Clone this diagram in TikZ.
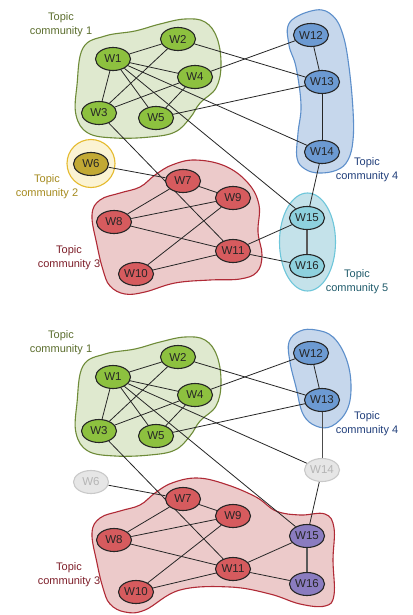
\documentclass[tikz,border=0pt]{standalone}
\usepackage{fontspec}
\setmainfont{Liberation Sans}
\usetikzlibrary{shapes.geometric}
\pgfdeclarelayer{hulls}
\pgfdeclarelayer{edges}
\pgfsetlayers{hulls,edges,main}
\definecolor{gN}{HTML}{8DC13F}\definecolor{gH}{HTML}{DFE9CF}\definecolor{gB}{HTML}{6E8B38}\definecolor{gT}{HTML}{5C6E2E}
\definecolor{yN}{HTML}{C2A934}\definecolor{yH}{HTML}{FBF3D3}\definecolor{yB}{HTML}{E5BA2D}\definecolor{yT}{HTML}{A68B1F}
\definecolor{rN}{HTML}{D65B5E}\definecolor{rH}{HTML}{ECCACA}\definecolor{rB}{HTML}{B02A36}\definecolor{rT}{HTML}{7E1F2A}
\definecolor{bN}{HTML}{6C9AD2}\definecolor{bH}{HTML}{C6D7EC}\definecolor{bB}{HTML}{5D8FCB}\definecolor{bT}{HTML}{213F7B}
\definecolor{cN}{HTML}{8ED1DE}\definecolor{cH}{HTML}{C4E2EA}\definecolor{cB}{HTML}{6DC6DA}\definecolor{cT}{HTML}{215C6C}
\definecolor{pN}{HTML}{8A7CC0}
\definecolor{xN}{HTML}{E6E6E6}\definecolor{xB}{HTML}{C9C9C9}\definecolor{xT}{HTML}{B5B5B5}
\begin{document}
\begin{tikzpicture}[x=1pt,y=-1pt,
  wnode/.style={ellipse, draw=black!85, line width=1.1pt, minimum width=35pt, minimum height=23pt, inner sep=0pt, font=\fontsize{11.5}{13}\selectfont, text=black!85},
  green/.style={wnode, fill=gN},
  gold/.style={wnode, fill=yN},
  red/.style={wnode, fill=rN},
  blue/.style={wnode, fill=bN},
  cyan/.style={wnode, fill=cN},
  purple/.style={wnode, fill=pN},
  grey/.style={wnode, fill=xN, draw=xB, text=xT},
  edge/.style={draw=black!85, line width=0.8pt},
  strong/.style={draw=black!65, line width=1.5pt},
  hull/.style={line width=1.1pt},
  lab/.style={align=center, font=\fontsize{11}{14}\selectfont}
]
\useasboundingbox (0,0) rectangle (412,615);
\begin{pgfonlayer}{hulls}
\fill[white] (0,0) rectangle (412,615);
\end{pgfonlayer}

% ---------------- top panel ----------------
\begin{pgfonlayer}{hulls}
\draw[hull, draw=gB, fill=gH] plot[smooth cycle, tension=0.65] coordinates {(83,48) (105,36) (135,31) (160,24) (185,19) (205,22) (217,38) (221,65) (216,88) (200,103) (190,118) (175,132) (150,137) (115,138) (88,133) (76,115) (77,85)};
\draw[hull, draw=rB, fill=rH] plot[smooth cycle, tension=0.65] coordinates {(92,215) (100,200) (120,193) (140,187) (155,175) (172,165) (195,160) (225,166) (248,183) (259,205) (258,232) (262,255) (257,272) (240,279) (210,280) (175,283) (145,292) (125,294) (110,286) (103,270) (97,245)};
\draw[hull, draw=bB, fill=bH] plot[smooth cycle, tension=0.65] coordinates {(316,10) (333,16) (343,35) (349,67) (353,110) (353,140) (348,160) (337,170) (319,173) (305,169) (297,158) (298,133) (301,105) (296,67) (289,45) (290,22)};
\draw[hull, draw=cB, fill=cH] (307.5,242) ellipse[x radius=28, y radius=49];
\draw[hull, draw=yB, fill=yH] (91,163.5) circle[radius=24];
\end{pgfonlayer}

\node[green] (t1) at (113,59) {W1};
\node[green] (t2) at (178,39) {W2};
\node[green] (t3) at (99,113) {W3};
\node[green] (t4) at (195,77) {W4};
\node[green] (t5) at (156,118) {W5};
\node[gold]  (t6) at (91,164) {W6};
\node[red] (t7) at (183,181) {W7};
\node[red] (t8) at (114,222) {W8};
\node[red] (t9) at (233,198) {W9};
\node[red] (t10) at (136,274) {W10};
\node[red] (t11) at (233,251) {W11};
\node[blue] (t12) at (311,35) {W12};
\node[blue] (t13) at (322,82) {W13};
\node[blue] (t14) at (322,152) {W14};
\node[cyan] (t15) at (307,218) {W15};
\node[cyan] (t16) at (307,266) {W16};

\begin{pgfonlayer}{edges}
\foreach \a/\b in {1/2,1/3,1/4,1/5,1/14,1/15,2/3,2/13,3/4,3/11,4/5,4/12,5/13,12/13,13/14,14/15,6/7,7/8,7/9,8/9,8/11,9/10,10/11,11/15,11/16}
  \draw[edge] (t\a) -- (t\b);
\draw[strong] (t15) -- (t16);
\end{pgfonlayer}

\node[lab, text=gT] (l1) at (61,25) {Topic\\community 1};
\node[lab, text=yT] (l2) at (47,187) {Topic\\community 2};
\node[lab, text=rT] (l3) at (69,258) {Topic\\community 3};
\node[lab, text=bT] (l4) at (367,170) {Topic\\community 4};
\node[lab, text=cT] (l5) at (357,282) {Topic\\community 5};

% ---------------- bottom panel ----------------
\begin{pgfonlayer}{hulls}
\draw[hull, draw=gB, fill=gH] plot[smooth cycle, tension=0.65] coordinates {(83,366) (105,354) (135,349) (160,342) (185,337) (205,340) (217,356) (221,383) (216,406) (200,421) (190,436) (175,450) (150,455) (115,456) (88,451) (76,433) (77,403)};
\draw[hull, draw=rB, fill=rH] plot[smooth cycle, tension=0.65] coordinates {(92,533) (100,518) (120,511) (140,505) (155,493) (172,483) (197,478) (225,484) (256,497) (276,511) (300,515) (325,514) (334,528) (333,560) (334,595) (325,606) (300,604) (270,594) (230,587) (180,590) (145,610) (125,612) (110,604) (103,588) (97,563)};
\draw[hull, draw=bB, fill=bH] plot[smooth cycle, tension=0.65] coordinates {(316,330) (333,337) (346,358) (351,385) (347,410) (332,426) (316,426) (303,414) (296,387) (290,362) (289,342) (300,331)};
\end{pgfonlayer}

\node[green] (b1) at (113,377) {W1};
\node[green] (b2) at (178,357) {W2};
\node[green] (b3) at (99,431) {W3};
\node[green] (b4) at (195,395) {W4};
\node[green] (b5) at (156,436) {W5};
\node[grey]  (b6) at (91,482) {W6};
\node[red] (b7) at (183,499) {W7};
\node[red] (b8) at (114,540) {W8};
\node[red] (b9) at (233,516) {W9};
\node[red] (b10) at (136,592) {W10};
\node[red] (b11) at (233,569) {W11};
\node[blue] (b12) at (311,353) {W12};
\node[blue] (b13) at (322,400) {W13};
\node[grey] (b14) at (322,470) {W14};
\node[purple] (b15) at (307,536) {W15};
\node[purple] (b16) at (307,584) {W16};

\begin{pgfonlayer}{edges}
\foreach \a/\b in {1/2,1/3,1/4,1/5,1/14,1/15,2/3,2/13,3/4,3/11,4/5,4/12,5/13,12/13,14/15,6/7,7/8,7/9,8/9,8/11,9/10,10/11,11/15,11/16}
  \draw[edge] (b\a) -- (b\b);
\draw[strong] (b15) -- (b16);
\draw[edge, draw=black!70, line width=1pt] (b13) -- (b14);
\end{pgfonlayer}

\node[lab, text=gT] (m1) at (61,343) {Topic\\community 1};
\node[lab, text=rT] (m3) at (69,575) {Topic\\community 3};
\node[lab, text=bT] (m4) at (367,424) {Topic\\community 4};
\end{tikzpicture}
\end{document}
